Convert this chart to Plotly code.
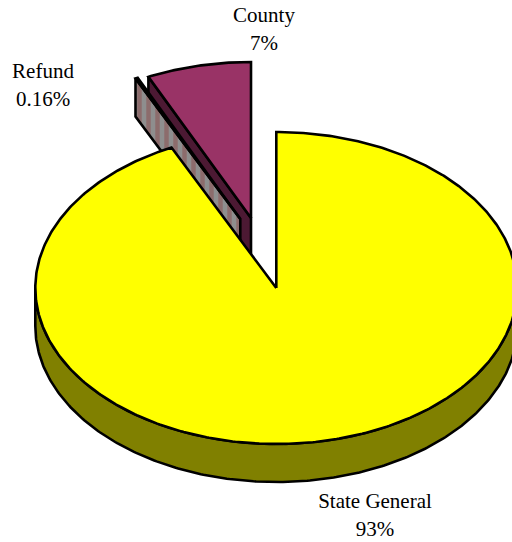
import numpy as np
import plotly.graph_objects as go

# Data
categories = ["State General", "Refund", "County"]
shares = [92.84, 0.16, 7.00]
percent_labels = ["93%", "0.16%", "7%"]

# Styles
top_colors = {"State General": "#FFFF00", "County": "#993366", "Refund": "#E8B8B8"}
wall_colors = {"State General": "#808000", "County": "#4C1933"}
stripe_bg, stripe_fg = "#8E8E8E", "#8A4A4A"
LINE_W = 2.6

# Projection of the tilted disc, in screen units
CX, CY, RX, RY, DEPTH = 276.3, 288, 241, 156, 38
explode = {"State General": (0, 0), "County": (-25.3, -70), "Refund": (-36, -69)}
label_pos = {"State General": (375, 503), "County": (264, 17), "Refund": (43, 73)}
LINE_GAP = 28


def pt(theta, ox=0, oy=0, dz=0):
    return (CX + ox + RX * np.sin(theta), CY + oy - RY * np.cos(theta) + dz)


def arc(a, b, ox=0, oy=0, dz=0):
    t = np.linspace(a, b, max(2, int(abs(b - a) * 90)))
    return pt(t, ox, oy, dz)


def poly(x, y, fill, **kw):
    x, y = list(x), list(y)
    return go.Scatter(x=x + x[:1], y=y + y[:1], mode="lines", fill="toself",
                      fillcolor=fill, line=dict(color="black", width=LINE_W),
                      hoverinfo="skip", showlegend=False, **kw)


total = sum(shares)
spans = {}
start = 0.0
for name, val in zip(categories, shares):
    end = start + val / total * 2 * np.pi
    spans[name] = (start, end)
    start = end

traces = []

# County wedge (exploded)
a, b = spans["County"]
ox, oy = explode["County"]
cx0, cy0 = CX + ox, CY + oy
ax, ay = pt(a, ox, oy)
traces.append(poly([ax, ax, cx0, cx0], [ay, ay + DEPTH, cy0 + DEPTH, cy0], wall_colors["County"]))
rx_, ry_ = arc(a, b, ox, oy)
traces.append(poly([cx0, *rx_], [cy0, *ry_], top_colors["County"]))

# Refund wedge (exploded), striped cut face, in front of the County wall
a, b = spans["Refund"]
ox, oy = explode["Refund"]
cx0, cy0 = CX + ox, CY + oy
ax, ay = pt(a, ox, oy)
traces.append(poly([ax, ax, cx0, cx0], [ay, ay + DEPTH, cy0 + DEPTH, cy0], stripe_bg,
                   fillpattern=dict(shape="|", bgcolor=stripe_bg, fgcolor=stripe_fg,
                                    size=9, solidity=0.5)))
rx_, ry_ = arc(a, b, ox, oy)
traces.append(poly([cx0, *rx_], [cy0, *ry_], top_colors["Refund"]))

# State General wedge: front wall then top face
a, b = spans["State General"]
wx1, wy1 = arc(np.pi / 2, 3 * np.pi / 2)
wx2, wy2 = arc(3 * np.pi / 2, np.pi / 2, dz=DEPTH)
traces.append(poly([*wx1, *wx2], [*wy1, *wy2], wall_colors["State General"]))
mx, my = arc(a, b)
traces.append(poly([CX, *mx], [CY, *my], top_colors["State General"]))

# Labels
tx, ty, tt = [], [], []
for name, pct in zip(categories, percent_labels):
    x, y = label_pos[name]
    tx += [x, x]
    ty += [y, y + LINE_GAP]
    tt += [name, pct]
traces.append(go.Scatter(x=tx, y=ty, text=tt, mode="text", textposition="middle center",
                         textfont=dict(family="Liberation Serif", size=21, color="black"),
                         hoverinfo="skip", showlegend=False))

fig = go.Figure(traces)
fig.update_layout(
    width=512, height=542, margin=dict(l=0, r=0, t=0, b=0),
    paper_bgcolor="white", plot_bgcolor="white", showlegend=False,
    xaxis=dict(range=[0, 512], visible=False, fixedrange=True),
    yaxis=dict(range=[542, 0], visible=False, fixedrange=True),
)
fig.write_html("out.html", config={"displayModeBar": False},
               post_script="document.body.style.margin='0';document.documentElement.style.overflow='hidden';")
